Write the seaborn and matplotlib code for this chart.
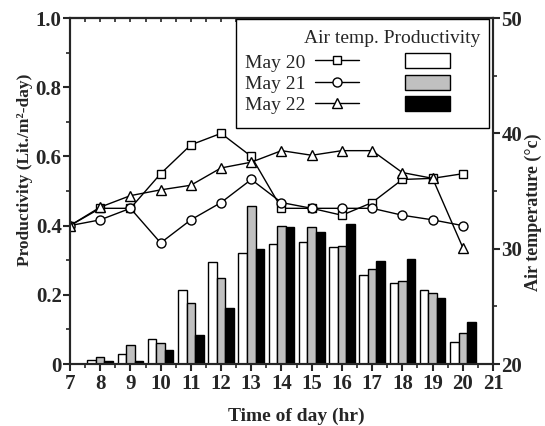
import numpy as np
import pandas as pd
import matplotlib
matplotlib.use("Agg")
import matplotlib.pyplot as plt
import seaborn as sns
from matplotlib.lines import Line2D
from matplotlib.patches import Patch, Rectangle
from matplotlib.ticker import MultipleLocator, FixedLocator

# ---------------- data ----------------
days = ["May 20", "May 21", "May 22"]

bar_hours = [8, 9, 10, 11, 12, 13, 14, 15, 16, 17, 18, 19, 20]
prod_may20 = [0.013, 0.029, 0.071, 0.214, 0.296, 0.322, 0.348, 0.352, 0.338, 0.257, 0.233, 0.214, 0.064]
prod_may21 = [0.019, 0.054, 0.062, 0.175, 0.250, 0.457, 0.399, 0.397, 0.341, 0.276, 0.241, 0.204, 0.091]
prod_may22 = [0.010, 0.010, 0.040, 0.083, 0.162, 0.333, 0.397, 0.382, 0.404, 0.299, 0.304, 0.190, 0.120]

temp_hours = [7, 8, 9, 10, 11, 12, 13, 14, 15, 16, 17, 18, 19, 20]
temp_may20 = [32.0, 33.5, 33.5, 36.5, 39.0, 40.0, 38.0, 33.5, 33.5, 32.9, 34.0, 36.0, 36.1, 36.5]
temp_may21 = [32.0, 32.5, 33.5, 30.5, 32.5, 34.0, 36.0, 34.0, 33.5, 33.5, 33.5, 32.9, 32.5, 32.0]
temp_may22 = [32.0, 33.6, 34.6, 35.1, 35.5, 37.0, 37.5, 38.5, 38.1, 38.5, 38.5, 36.6, 36.1, 30.1]

x_ticks = list(range(7, 22))
left_ticks = [0, 0.2, 0.4, 0.6, 0.8, 1.0]
left_labels = ["0", "0.2", "0.4", "0.6", "0.8", "1.0"]
right_ticks = [20, 30, 40, 50]

bar_colors = ["white", "#c0c0c0", "black"]
markers = ["s", "o", "^"]

prod_df = pd.DataFrame({
    "hour": bar_hours * 3,
    "prod": prod_may20 + prod_may21 + prod_may22,
    "day": [days[0]] * len(bar_hours) + [days[1]] * len(bar_hours) + [days[2]] * len(bar_hours),
})
temps = [temp_may20, temp_may21, temp_may22]

# ---------------- style ----------------
sns.set_style("ticks")
plt.rcParams["font.family"] = ["Liberation Serif", "DejaVu Serif"]
plt.rcParams["axes.linewidth"] = 1.5

fig = plt.figure(figsize=(5.45, 4.26), dpi=100)
ax = fig.add_axes([0.1284, 0.1455, 0.9046 - 0.1284, 0.9577 - 0.1455])

sns.barplot(data=prod_df, x="hour", y="prod", hue="day", hue_order=days,
            palette=bar_colors, native_scale=True, width=0.85,
            edgecolor="black", linewidth=1.0, legend=False, ax=ax, errorbar=None)

ax.set_xlim(7, 21)
ax.set_ylim(0, 1.0)
ax.xaxis.set_major_locator(FixedLocator(x_ticks))
ax.set_xticklabels([str(h) for h in x_ticks])
ax.xaxis.set_minor_locator(MultipleLocator(0.5))
ax.set_yticks(left_ticks)
ax.set_yticklabels(left_labels)
ax.yaxis.set_minor_locator(MultipleLocator(0.1))
ax.tick_params(axis="both", which="major", direction="out", length=5, width=1.5,
               labelsize=15)
ax.tick_params(axis="both", which="minor", direction="out", length=3, width=1.2)
for lab in ax.get_xticklabels() + ax.get_yticklabels():
    lab.set_fontweight("bold")
ax.tick_params(axis="x", pad=2)
ax.tick_params(axis="y", pad=1)

ax.set_xlabel("Time of day (hr)", fontsize=14, fontweight="bold")
ax.set_ylabel("Productivity (Lit./m²-day)", fontsize=12.5, fontweight="bold")
ax.xaxis.set_label_coords(0.535, -0.125)
ax.yaxis.set_label_coords(-0.088, 0.56)

# top ticks
sec = ax.secondary_xaxis("top")
sec.xaxis.set_major_locator(FixedLocator(x_ticks))
sec.xaxis.set_minor_locator(MultipleLocator(0.5))
sec.tick_params(which="both", direction="in", length=3, width=1.2, labeltop=False)

# ---------------- temperature lines ----------------
ax2 = ax.twinx()
msizes = [6, 6.5, 7.5]
for day, t, m, ms in zip(days, temps, markers, msizes):
    sns.lineplot(x=temp_hours, y=t, ax=ax2, color="black", linewidth=1.0,
                 marker=m, markersize=ms, markerfacecolor="white",
                 markeredgecolor="black", markeredgewidth=1.0, legend=False)
ax2.set_ylim(20, 50)
ax2.set_yticks(right_ticks)
ax2.set_yticklabels([str(v) for v in right_ticks])
ax2.yaxis.set_minor_locator(MultipleLocator(5))
ax2.tick_params(axis="y", which="major", direction="out", length=5, width=1.5, labelsize=15, pad=1)
ax2.tick_params(axis="y", which="minor", direction="out", length=3, width=1.2)
for lab in ax2.get_yticklabels():
    lab.set_fontweight("bold")
ax2.set_ylabel("Air temperature (°c)", fontsize=13, fontweight="bold")
ax2.yaxis.set_label_coords(1.076, 0.44)
ax2.set_xlim(7, 21)

# ---------------- legend ----------------
frame = Rectangle((0.3924, 0.682), 0.598, 0.315, transform=ax2.transAxes,
                  facecolor="white", edgecolor="black", linewidth=1.0,
                  zorder=4, clip_on=False)
ax2.add_patch(frame)
ax2.text(0.969, 0.928, "Air temp. Productivity", transform=ax2.transAxes,
         ha="right", va="baseline", fontsize=14, zorder=6)

line_handles = [Line2D([0], [0], color="black", lw=1.0, marker=m, markersize=ms,
                       markerfacecolor="white", markeredgecolor="black")
                for m, ms in zip(markers, msizes)]
patch_handles = [Patch(facecolor=c, edgecolor="black", linewidth=1.0) for c in bar_colors]
leg = ax2.legend(handles=line_handles + patch_handles,
                 labels=days + ["", "", ""],
                 ncol=2, markerfirst=False, fontsize=14,
                 loc="upper left", bbox_to_anchor=(0.4137, 0.898),
                 handlelength=2.3, handleheight=0.82, handletextpad=0.47,
                 columnspacing=1.9, labelspacing=0.15, borderpad=0.0,
                 frameon=False, borderaxespad=0.0)
leg.set_zorder(6)

fig.savefig("out.png", dpi=100)
